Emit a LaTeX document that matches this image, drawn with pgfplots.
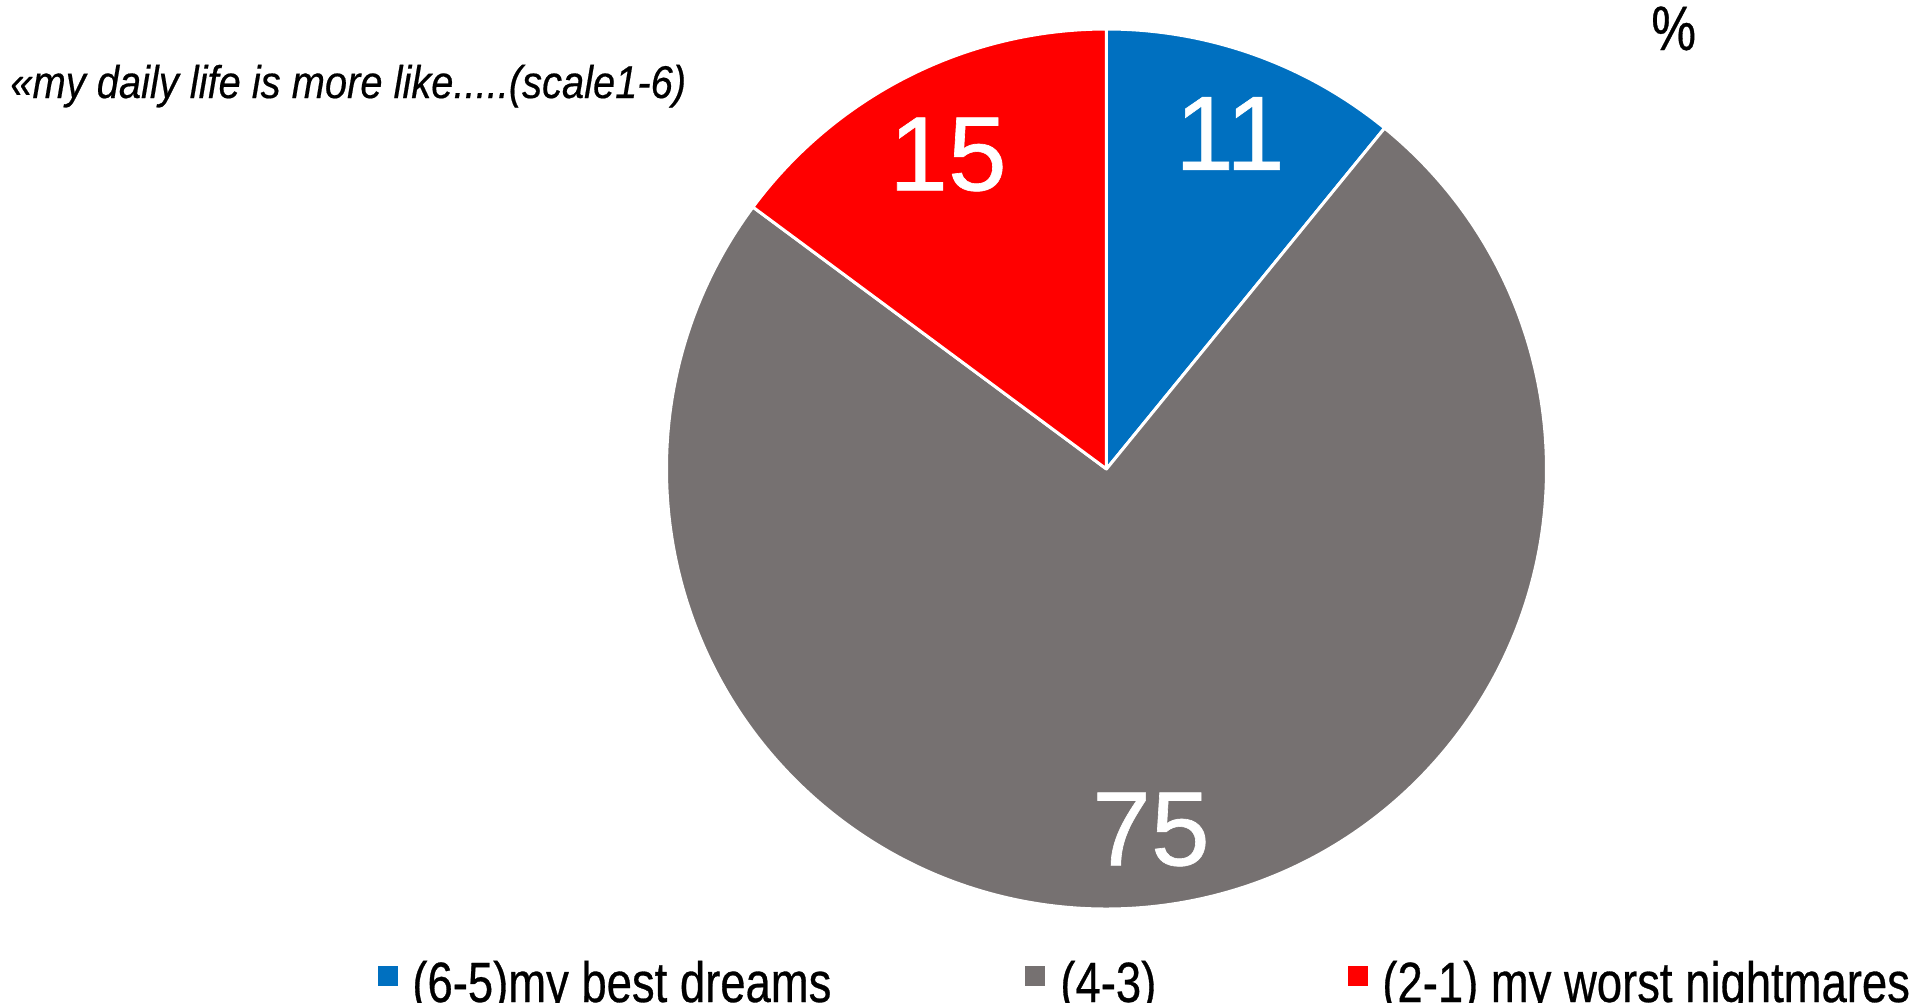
\documentclass[border=0pt]{standalone}
\usepackage{fontspec}
\setmainfont{Liberation Sans}
\newfontfamily\narrow[FakeStretch=0.8,FakeBold=0.5]{Liberation Sans}
\newfontfamily\titlefont[FakeStretch=0.87,FakeBold=0.4]{Liberation Sans}
\newfontfamily\numfont[FakeBold=0.6]{Liberation Sans}
\usepackage{pgfplots}
\usepackage{pgfplotstable}
\pgfplotsset{compat=1.18}
\definecolor{cblue}{HTML}{0070C0}
\definecolor{cgray}{HTML}{767171}
\definecolor{cred}{HTML}{FF0000}
\pgfplotstableread{
name value lx ly
best 11 1230 869.5
mid 75 1151 173.5
worst 15 948 848.5
}\piedata
\begin{document}
\begin{tikzpicture}
\pgfplotstablegetelem{0}{value}\of\piedata \edef\va{\pgfplotsretval}
\pgfplotstablegetelem{1}{value}\of\piedata \edef\vb{\pgfplotsretval}
\pgfplotstablegetelem{2}{value}\of\piedata \edef\vc{\pgfplotsretval}
\pgfmathsetmacro\tot{\va+\vb+\vc}
\pgfmathsetmacro\aA{90}
\pgfmathsetmacro\aB{90-(360/\tot)*\va}
\pgfmathsetmacro\aC{\aB-(360/\tot)*\vb}
\pgfmathsetmacro\aD{\aC-(360/\tot)*\vc}
\def\R{220bp}
\begin{axis}[
  at={(0,0)}, anchor=south west,
  x=0.5bp, y=0.5bp, scale only axis,
  xmin=0, xmax=1915, ymin=0, ymax=1003,
  hide axis, clip=false,
]
\fill[cblue, draw=white, line width=1.5bp, line join=round] (axis cs:1106.5,534) -- ++(\aA:\R) arc[start angle=\aA, end angle=\aB, radius=\R] -- cycle;
\fill[cgray, draw=white, line width=1.5bp, line join=round] (axis cs:1106.5,534) -- ++(\aB:\R) arc[start angle=\aB, end angle=\aC, radius=\R] -- cycle;
\fill[cred, draw=white, line width=1.5bp, line join=round] (axis cs:1106.5,534) -- ++(\aC:\R) arc[start angle=\aC, end angle=\aD, radius=\R] -- cycle;
\addplot[only marks, mark=none, nodes near coords, point meta=explicit symbolic,
  every node near coord/.style={white, anchor=center, inner sep=0pt, font=\numfont\fontsize{53}{53}\selectfont}]
  table[x=lx, y=ly, meta=value] {\piedata};
\node[anchor=base west, inner sep=0pt, font=\titlefont\itshape\fontsize{23}{23}\selectfont] at (axis cs:10,905) {«my daily life is more like.....(scale1-6)};
\node[anchor=base west, inner sep=0pt, font=\narrow\fontsize{31.5}{31.5}\selectfont] at (axis cs:1651,953) {\%};
% legend
\fill[cblue] (axis cs:378,17) rectangle (axis cs:398,37);
\node[anchor=base west, inner sep=0pt, font=\narrow\fontsize{28.5}{28.5}\selectfont] at (axis cs:412,1) {(6-5)my best dreams};
\fill[cgray] (axis cs:1025,17) rectangle (axis cs:1045,37);
\node[anchor=base west, inner sep=0pt, font=\narrow\fontsize{28.5}{28.5}\selectfont] at (axis cs:1060,1) {(4-3)};
\fill[cred] (axis cs:1348,17) rectangle (axis cs:1368,37);
\node[anchor=base west, inner sep=0pt, font=\narrow\fontsize{28.5}{28.5}\selectfont] at (axis cs:1382,1) {(2-1) my worst nightmares};
\end{axis}
\pgfresetboundingbox
\useasboundingbox (0,0) rectangle (957.5bp,501.5bp);
\end{tikzpicture}
\end{document}
